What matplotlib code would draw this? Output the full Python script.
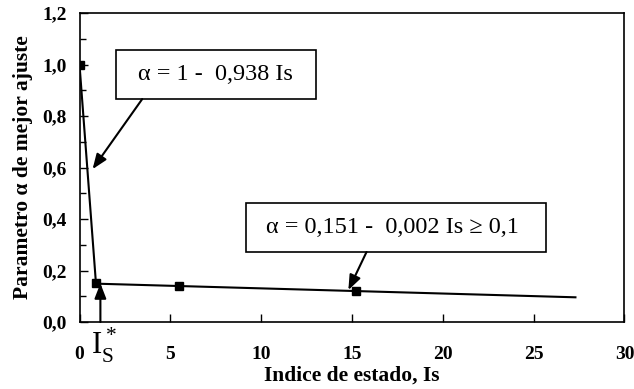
import matplotlib
matplotlib.use('Agg')
import matplotlib.pyplot as plt
from matplotlib.patches import Rectangle
from matplotlib.ticker import MultipleLocator, FuncFormatter

plt.rcParams['font.family'] = ['Liberation Serif', 'DejaVu Serif']
plt.rcParams['mathtext.fontset'] = 'custom'
plt.rcParams['mathtext.rm'] = 'Liberation Serif'

# measured points
is_pts = [0.0, 0.9, 5.5, 15.2]
alpha_pts = [1.0, 0.15, 0.14, 0.12]

# fitted bilinear law
is_fit = [0.0, 0.907, 27.3]
alpha_fit = [1.0, 0.149, 0.096]

xticks = [0, 5, 10, 15, 20, 25, 30]
yticks = [0.0, 0.2, 0.4, 0.6, 0.8, 1.0, 1.2]

eq1 = 'α = 1 -  0,938 Is'
eq2 = 'α = 0,151 -  0,002 Is ≥ 0,1'

fig = plt.figure(figsize=(6.34, 3.89), dpi=100)
ax = fig.add_axes([0.1254, 0.1722, 0.8596, 0.794])

ax.plot(is_fit, alpha_fit, color='black', lw=1.5, zorder=3)
ax.plot(is_pts, alpha_pts, ls='none', marker='s', ms=5.5, color='black', zorder=4)

ax.set_xlim(0, 30)
ax.set_ylim(0, 1.2)
ax.set_xticks(xticks)
ax.set_yticks(yticks)
ax.yaxis.set_minor_locator(MultipleLocator(0.1))
ax.yaxis.set_major_formatter(FuncFormatter(lambda v, p: f'{v:.1f}'.replace('.', ',')))
ax.tick_params(direction='in', length=6, width=1, labelsize=14)
ax.tick_params(axis='x', pad=17)
ax.tick_params(axis='y', pad=9)
ax.tick_params(which='minor', direction='in', length=4, width=1)
for lab in ax.get_xticklabels() + ax.get_yticklabels():
    lab.set_fontweight('bold')
for s in ax.spines.values():
    s.set_linewidth(1.2)

ax.set_xlabel('Indice de estado, Is', fontsize=15.5, fontweight='bold', labelpad=2)
ax.set_ylabel('Parametro α de mejor ajuste', fontsize=15.5, fontweight='bold', labelpad=7)

# equation boxes
ax.add_patch(Rectangle((2.0, 0.866), 11.0, 0.19, fill=False, lw=1.2, zorder=5))
ax.text(7.46, 0.961, eq1, fontsize=17.5, ha='center', va='center', zorder=6)
ax.add_patch(Rectangle((9.16, 0.272), 16.54, 0.19, fill=False, lw=1.2, zorder=5))
ax.text(17.2, 0.367, eq2, fontsize=17.5, ha='center', va='center', zorder=6)

arrow = dict(arrowstyle='-|>,head_length=0.9,head_width=0.35', color='black', lw=1.5,
             shrinkA=0, shrinkB=0)
ax.annotate('', xy=(0.72, 0.594), xytext=(3.45, 0.866), arrowprops=arrow)
ax.annotate('', xy=(14.8, 0.124), xytext=(15.8, 0.272), arrowprops=arrow)
ax.annotate('', xy=(1.15, 0.15), xytext=(1.15, 0.0), arrowprops=arrow)

ax.text(1.35, -0.09, r'$\mathrm{I}_\mathrm{S}^*$', fontsize=22, ha='center', va='center',
        clip_on=False)

fig.savefig('out.png', dpi=100)
